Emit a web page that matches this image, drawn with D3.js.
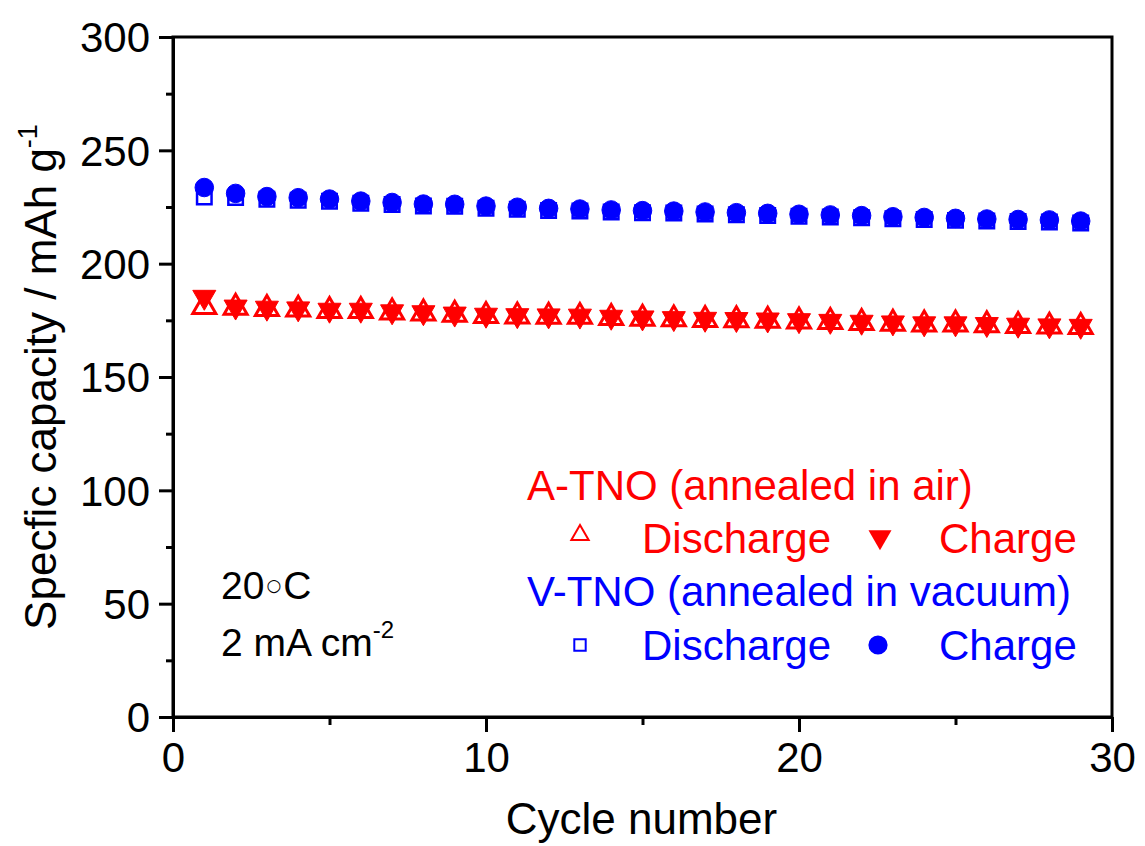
<!DOCTYPE html>
<html>
<head>
<meta charset="utf-8">
<script src="https://cdn.jsdelivr.net/npm/d3@7"></script>
<style>
  body { margin: 0; background: #fff; }
  svg text { font-family: "Liberation Sans", Arial, sans-serif; }
</style>
</head>
<body>
<div id="chart"></div>
<script>
// cycle numbers and capacities (mAh g-1)
var cycles = d3.range(1, 30);
var aDischarge = [181, 180.6, 180.1, 179.8, 179.2, 179.2, 178.5, 178.1, 177.5, 177.0, 176.8, 176.7, 176.6, 176.1, 175.8, 175.5, 175.2, 175.1, 174.9, 174.6, 174.3, 173.9, 173.6, 173.2, 173.2, 172.9, 172.6, 172.3, 172.1];
var aCharge    = [185.3, 181, 180.5, 180.2, 179.6, 179.6, 178.9, 178.5, 177.9, 177.4, 177.2, 177.1, 177.0, 176.5, 176.2, 175.9, 175.6, 175.5, 175.3, 175.0, 174.7, 174.3, 174.0, 173.6, 173.6, 173.3, 173.0, 172.7, 172.5];
var vDischarge = [229.4, 229.2, 228.4, 228.0, 227.5, 226.7, 226.1, 225.4, 225.3, 224.5, 224.0, 223.5, 223.2, 222.8, 222.5, 222.3, 221.9, 221.6, 221.3, 220.9, 220.6, 220.3, 219.8, 219.5, 219.1, 218.8, 218.6, 218.4, 217.9];
var vCharge    = [233.6, 231.0, 229.6, 229.1, 228.5, 227.6, 227.0, 226.3, 226.2, 225.4, 224.9, 224.4, 224.1, 223.7, 223.4, 223.2, 222.8, 222.5, 222.2, 221.8, 221.5, 221.2, 220.7, 220.4, 220.0, 219.7, 219.5, 219.3, 218.8];
var xTicks = [0, 10, 20, 30];
var xMinor = [5, 15, 25];
var yTicks = [0, 50, 100, 150, 200, 250, 300];
var yMinor = [25, 75, 125, 175, 225, 275];

var W = 1145, H = 846;
// plot box (window.top is read-only, so no plain "top")
var pL = 173, pR = 1112, pT = 37, pB = 717;
var red = "#ff0000", blue = "#0000ff";

var svg = d3.select("#chart").append("svg").attr("width", W).attr("height", H);

var x = d3.scaleLinear().domain([0, 30]).range([pL, pR]);
var y = d3.scaleLinear().domain([0, 300]).range([pB, pT]);

// frame
svg.append("rect").attr("x", pL).attr("y", pT)
  .attr("width", pR - pL).attr("height", pB - pT)
  .attr("fill", "none").attr("stroke", "#000").attr("stroke-width", 3);

function styleAxis(g) {
  g.select(".domain").attr("stroke-width", 3);
  g.selectAll(".tick line").attr("stroke-width", 3);
  g.selectAll("text").attr("font-size", 42).attr("fill", "#000");
}

var gx = svg.append("g").attr("transform", "translate(0," + pB + ")")
  .call(d3.axisBottom(x).tickValues(xTicks).tickSize(15).tickPadding(10).tickSizeOuter(0));
styleAxis(gx);
var gxm = svg.append("g").attr("transform", "translate(0," + pB + ")")
  .call(d3.axisBottom(x).tickValues(xMinor).tickSize(8).tickFormat("").tickSizeOuter(0));
styleAxis(gxm);

var gy = svg.append("g").attr("transform", "translate(" + pL + ",0)")
  .call(d3.axisLeft(y).tickValues(yTicks).tickSize(14).tickPadding(9).tickSizeOuter(0));
styleAxis(gy);
gy.selectAll("text").attr("dy", "0.35em");
var gym = svg.append("g").attr("transform", "translate(" + pL + ",0)")
  .call(d3.axisLeft(y).tickValues(yMinor).tickSize(7).tickFormat("").tickSizeOuter(0));
styleAxis(gym);

// axis titles
svg.append("text").attr("x", (pL + pR) / 2 - 1).attr("y", 834)
  .attr("text-anchor", "middle").attr("font-size", 44).text("Cycle number");
var yt = svg.append("text").attr("transform", "translate(56," + ((pT + pB) / 2) + ") rotate(-90)")
  .attr("text-anchor", "middle").attr("font-size", 44);
yt.append("tspan").text("Specfic capacity / mAh g");
yt.append("tspan").attr("dy", -19).attr("font-size", 27).text("-1");

var triUp = d3.symbol().type(d3.symbolTriangle).size(230);
var circ = d3.symbol().type(d3.symbolCircle).size(270);
var sq = d3.symbol().type(d3.symbolSquare).size(210);

function drawSeries(vals, sym, opts) {
  svg.append("g").selectAll("path").data(vals).enter().append("path")
    .attr("d", sym())
    .attr("transform", function(d, i) {
      return "translate(" + x(cycles[i]) + "," + y(d) + ")" + (opts.rot ? " rotate(180)" : "");
    })
    .attr("fill", opts.fill).attr("stroke", opts.stroke).attr("stroke-width", opts.sw);
}

drawSeries(vDischarge, sq, { fill: "none", stroke: blue, sw: 2.5 });
drawSeries(vCharge, circ, { fill: blue, stroke: blue, sw: 1 });
drawSeries(aDischarge, triUp, { fill: "none", stroke: red, sw: 3 });
drawSeries(aCharge, triUp, { fill: red, stroke: red, sw: 1, rot: true });

// legend
var lg = svg.append("g").attr("font-size", 42);
lg.append("text").attr("x", 527).attr("y", 500).attr("fill", red).text("A-TNO (annealed in air)");
lg.append("path").attr("d", d3.symbol().type(d3.symbolTriangle).size(130)())
  .attr("transform", "translate(580,535)").attr("fill", "none").attr("stroke", red).attr("stroke-width", 2);
lg.append("text").attr("x", 642).attr("y", 553).attr("fill", red).text("Discharge");
lg.append("path").attr("d", d3.symbol().type(d3.symbolTriangle).size(230)())
  .attr("transform", "translate(880,537) rotate(180)").attr("fill", red);
lg.append("text").attr("x", 939).attr("y", 553).attr("fill", red).text("Charge");
lg.append("text").attr("x", 527).attr("y", 606).attr("fill", blue).text("V-TNO (annealed in vacuum)");
lg.append("path").attr("d", d3.symbol().type(d3.symbolSquare).size(130)())
  .attr("transform", "translate(580,645)").attr("fill", "none").attr("stroke", blue).attr("stroke-width", 2);
lg.append("text").attr("x", 642).attr("y", 660).attr("fill", blue).text("Discharge");
lg.append("path").attr("d", d3.symbol().type(d3.symbolCircle).size(290)())
  .attr("transform", "translate(878,645)").attr("fill", blue);
lg.append("text").attr("x", 939).attr("y", 660).attr("fill", blue).text("Charge");

// conditions
var tc = svg.append("text").attr("x", 221).attr("y", 599).attr("font-size", 39);
tc.append("tspan").text("20");
tc.append("tspan").attr("font-family", "DejaVu Sans").attr("font-size", 17).attr("dy", -8).attr("dx", 2).text("\u25CB");
tc.append("tspan").attr("dy", 8).attr("dx", 2).text("C");
var cd = svg.append("text").attr("x", 221).attr("y", 656).attr("font-size", 39);
cd.append("tspan").text("2 mA cm");
cd.append("tspan").attr("dy", -18).attr("font-size", 24).text("-2");
</script>
</body>
</html>
